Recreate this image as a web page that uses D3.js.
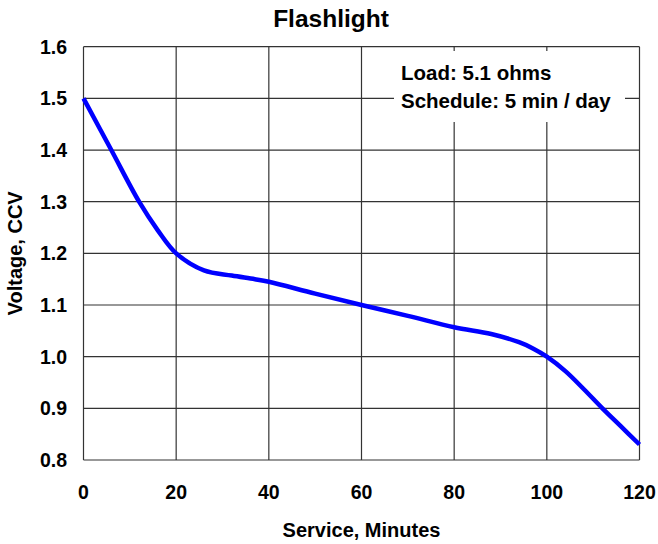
<!DOCTYPE html>
<html>
<head>
<meta charset="utf-8">
<script src="https://cdn.jsdelivr.net/npm/d3@7"></script>
<style>
html, body { margin: 0; padding: 0; background: #fff; }
svg { display: block; }
text { font-family: "Liberation Sans", Arial, sans-serif; font-weight: bold; fill: #000; }
</style>
</head>
<body>
<svg id="chart" width="658" height="544"></svg>
<script>
// ---- data ----
const minutes = [0, 6, 12, 16, 20, 26, 32, 37, 40, 50, 60, 70, 80, 88, 94, 97, 100, 104, 108, 112, 116, 120];
const voltage = [1.5, 1.4, 1.3, 1.245, 1.2, 1.167, 1.157, 1.150, 1.145, 1.122, 1.1, 1.079, 1.057, 1.044, 1.028, 1.016, 1.0, 0.972, 0.937, 0.9, 0.865, 0.83];
const xTicks = [0, 20, 40, 60, 80, 100, 120];
const yTicks = [0.8, 0.9, 1.0, 1.1, 1.2, 1.3, 1.4, 1.5, 1.6];
const titleText = "Flashlight";
const xTitle = "Service, Minutes";
const yTitle = "Voltage, CCV";
const noteLines = ["Load: 5.1 ohms", "Schedule: 5 min / day"];

// ---- layout ----
const svg = d3.select("#chart");
const plotL = 83.5, plotR = 639.5, plotT = 46.7, plotB = 460;
const x = d3.scaleLinear().domain([0, 120]).range([plotL, plotR]);
const y = d3.scaleLinear().domain([0.8, 1.6]).range([plotB, plotT]);
const gridColor = "#333";

// grid lines
const g = svg.append("g");
g.selectAll("line.h").data(yTicks).join("line").attr("class", "h")
  .attr("x1", plotL).attr("x2", plotR)
  .attr("y1", d => y(d)).attr("y2", d => y(d))
  .attr("stroke", gridColor).attr("stroke-width", 1.2);
g.selectAll("line.v").data(xTicks).join("line").attr("class", "v")
  .attr("y1", plotT).attr("y2", plotB)
  .attr("x1", d => x(d)).attr("x2", d => x(d))
  .attr("stroke", gridColor).attr("stroke-width", 1.2);

// annotation background (hides grid behind the note)
svg.append("rect")
  .attr("x", 394).attr("y", 51).attr("width", 231).attr("height", 71)
  .attr("fill", "#fff");

// y tick labels
svg.append("g").selectAll("text").data(yTicks).join("text")
  .attr("x", 67).attr("y", d => y(d) + 7)
  .attr("text-anchor", "end").attr("font-size", 19.5)
  .text(d => d3.format(".1f")(d));

// x tick labels
svg.append("g").selectAll("text").data(xTicks).join("text")
  .attr("x", d => x(d)).attr("y", 499)
  .attr("text-anchor", "middle").attr("font-size", 19.5)
  .text(d => d);

// titles
svg.append("text").attr("x", 331).attr("y", 27)
  .attr("text-anchor", "middle").attr("font-size", 24.5).text(titleText);
svg.append("text").attr("x", (plotL + plotR) / 2).attr("y", 537)
  .attr("text-anchor", "middle").attr("font-size", 20).text(xTitle);
svg.append("text")
  .attr("transform", `translate(22,${(plotT + plotB) / 2}) rotate(-90)`)
  .attr("text-anchor", "middle").attr("font-size", 20).text(yTitle);

// note
svg.append("g").selectAll("text").data(noteLines).join("text")
  .attr("x", 401).attr("y", (d, i) => 80 + i * 27.5)
  .attr("font-size", 20.5).text(d => d);

// curve
const pts = minutes.map((m, i) => [m, voltage[i]]);
const line = d3.line().x(d => x(d[0])).y(d => y(d[1])).curve(d3.curveCatmullRom.alpha(0.5));
svg.append("path").datum(pts)
  .attr("d", line)
  .attr("fill", "none").attr("stroke", "#0000ff")
  .attr("stroke-width", 4.5).attr("stroke-linejoin", "round");
</script>
</body>
</html>
